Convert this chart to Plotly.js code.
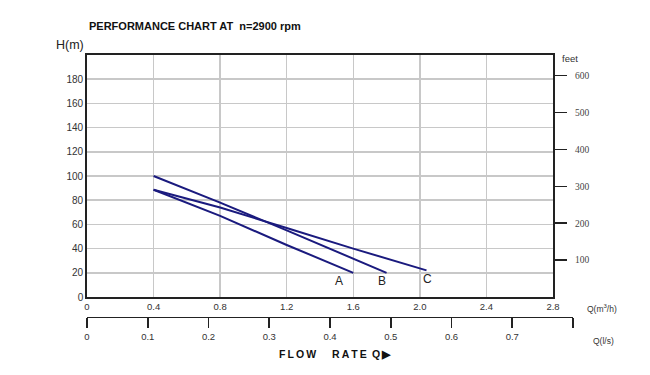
<!DOCTYPE html>
<html>
<head>
<meta charset="utf-8">
<script src="https://cdn.plot.ly/plotly-3.0.1.min.js"></script>
<style>html,body{margin:0;padding:0;background:#fff;}#chart{width:650px;height:375px;}</style>
</head>
<body>
<div id="chart"></div>
<script>
// Data
const curveNames = ['A', 'B', 'C'];
const flowA = [0.4, 0.8, 1.2, 1.6];
const headA = [88.6, 67, 43, 20];
const flowB = [0.4, 0.8, 1.2, 1.6, 1.8];
const headB = [100, 78, 55, 32, 20];
const flowC = [0.4, 0.8, 1.2, 1.6, 2.04];
const headC = [88.6, 74, 57, 40, 22];
const headTicks = [0, 20, 40, 60, 80, 100, 120, 140, 160, 180];
const flowTicks = [0, 0.4, 0.8, 1.2, 1.6, 2.0, 2.4, 2.8];
const flowTickText = ['0', '0.4', '0.8', '1.2', '1.6', '2.0', '2.4', '2.8'];
const feetTicks = [100, 200, 300, 400, 500, 600];
const lpsTicks = [0, 0.1, 0.2, 0.3, 0.4, 0.5, 0.6, 0.7, 0.8];
const lpsTickText = ['0', '0.1', '0.2', '0.3', '0.4', '0.5', '0.6', '0.7', ' '];
const labelPos = {A: [1.515, 13.4], B: [1.77, 13.4], C: [2.046, 14.8]};
const M_TO_FT = 3.28084;
const headMax = 200;

const lineColor = '#1a1a7e';
const sans = 'Liberation Sans, Arial, sans-serif';
const serif = 'Liberation Serif, Times New Roman, serif';

const flows = [flowA, flowB, flowC];
const heads = [headA, headB, headC];
const traces = [];
// invisible helper trace so the l/s axis is drawn (added first, underneath)
traces.push({type: 'scatter', mode: 'markers', x: lpsTicks, y: lpsTicks.map(() => null),
  xaxis: 'x2', yaxis: 'y3', showlegend: false, hoverinfo: 'skip', marker: {opacity: 0}});
// invisible helper on the feet axis
traces.push({type: 'scatter', mode: 'markers', x: [null], y: [null], xaxis: 'x', yaxis: 'y2',
  showlegend: false, hoverinfo: 'skip', marker: {opacity: 0}});
curveNames.forEach((n, i) => traces.push({
  type: 'scatter', mode: 'lines', name: n,
  x: flows[i], y: heads[i], xaxis: 'x', yaxis: 'y',
  line: {color: lineColor, width: 2}, hoverinfo: 'skip'
}));

const yDom = [0.135714, 1];
const xDom1 = [0, 0.92644];
const xDom2 = [0, 0.96620];

const annotations = curveNames.map(n => ({
  x: labelPos[n][0], y: labelPos[n][1], xref: 'x', yref: 'y', text: n, showarrow: false,
  font: {family: sans, size: 12, color: '#222'}, xanchor: 'center', yanchor: 'middle'
}));
annotations.push(
  {xref: 'paper', yref: 'paper', x: 0, y: 1.1036, xanchor: 'left', yanchor: 'middle', showarrow: false,
   text: '<b>PERFORMANCE CHART AT  n=2900 rpm</b>',
   font: {family: sans, size: 11, color: '#111'}},
  {xref: 'paper', yref: 'paper', x: -0.002, y: 1.0357, xanchor: 'right', yanchor: 'middle', showarrow: false,
   text: 'H(m)', font: {family: sans, size: 12.5, color: '#222'}},
  {xref: 'paper', yref: 'paper', x: 0.9602, y: 0.989, xanchor: 'center', yanchor: 'middle', showarrow: false,
   text: 'feet', font: {family: sans, size: 9.5, color: '#333'}},
  {xref: 'paper', yref: 'paper', x: 1.0239, y: 0.0964, xanchor: 'center', yanchor: 'middle', showarrow: false,
   text: 'Q(m<sup>3</sup>/h)', font: {family: sans, size: 8.5, color: '#333'}},
  {xref: 'paper', yref: 'paper', x: 1.0259, y: -0.0214, xanchor: 'center', yanchor: 'middle', showarrow: false,
   text: 'Q(l/s)', font: {family: sans, size: 8.5, color: '#333'}},
  {xref: 'paper', yref: 'paper', x: 0.493, y: -0.0679, xanchor: 'center', yanchor: 'middle', showarrow: false,
   text: '<b>F\u2009L\u2009O\u2009W\u2003\u2002R\u2009A\u2009T\u2009E\u2002Q\u2009▶</b>',
   font: {family: sans, size: 10.5, color: '#111'}}
);

const layout = {
  width: 650, height: 375,
  margin: {l: 87, r: 60, t: 55, b: 40, pad: 0},
  paper_bgcolor: '#fff', plot_bgcolor: 'rgba(0,0,0,0)',
  showlegend: false,
  xaxis: {domain: xDom1, anchor: 'y', range: [0, 2.8], tickvals: flowTicks, ticktext: flowTickText,
    showgrid: true, gridcolor: '#c8c8c8', gridwidth: 1.5, zeroline: false,
    showline: true, mirror: true, linecolor: '#222', linewidth: 1.6, ticks: '',
    tickfont: {family: sans, size: 9.5, color: '#333'}, fixedrange: true},
  yaxis: {domain: yDom, anchor: 'x', range: [0, headMax], tickvals: headTicks,
    showgrid: true, gridcolor: '#c8c8c8', gridwidth: 1.5, zeroline: false,
    showline: true, mirror: true, linecolor: '#222', linewidth: 1.8, ticks: '',
    tickfont: {family: sans, size: 10, color: '#333'}, fixedrange: true},
  yaxis2: {overlaying: 'y', side: 'right', anchor: 'x', range: [0, headMax * M_TO_FT], tickvals: feetTicks,
    showgrid: false, zeroline: false, showline: false, ticks: 'outside', ticklen: 13, tickwidth: 1.5,
    tickcolor: '#222', ticklabelstandoff: 6,
    tickfont: {family: serif, size: 9.5, color: '#444'}, fixedrange: true},
  xaxis2: {domain: xDom2, anchor: 'free', position: 0.06536, range: [0, 0.8], tickvals: lpsTicks, ticktext: lpsTickText,
    showgrid: false, zeroline: false, showline: true, linecolor: '#222', linewidth: 1.6,
    ticks: 'outside', ticklen: 10, tickwidth: 1.6, tickcolor: '#222',
    tickfont: {family: sans, size: 9.5, color: '#333'}, fixedrange: true},
  yaxis3: {domain: yDom, anchor: 'x2', visible: false, range: [0, 1], fixedrange: true},
  annotations: annotations
};

Plotly.newPlot('chart', traces, layout, {displayModeBar: false, staticPlot: true});
</script>
</body>
</html>
